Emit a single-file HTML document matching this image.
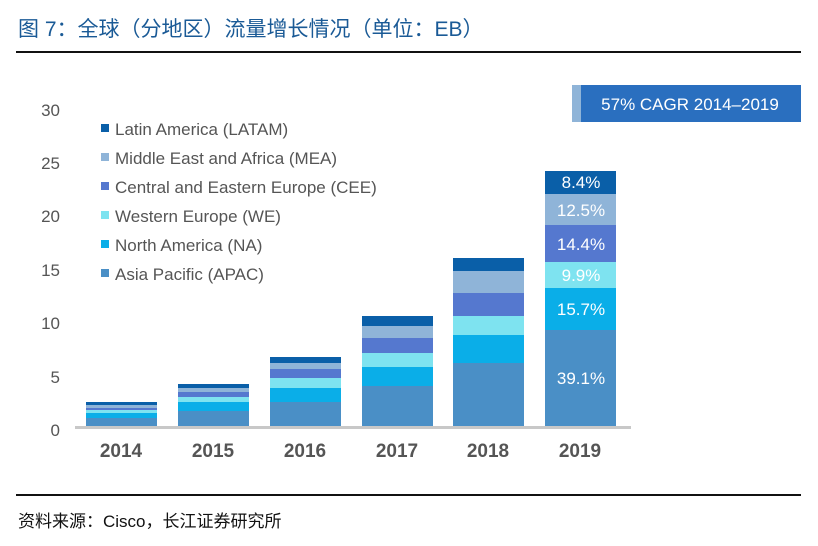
<!DOCTYPE html>
<html><head><meta charset="utf-8"><style>
html,body{margin:0;padding:0;background:#fff;}
svg{display:block;}
</style></head><body>
<svg width="818" height="546" xmlns="http://www.w3.org/2000/svg" font-family="Liberation Sans, Noto Sans CJK SC, sans-serif">
<text x="18" y="36" font-size="21" fill="#1a5a96">图 7：全球（分地区）流量增长情况（单位：EB）</text>
<rect x="16" y="51" width="785" height="2" fill="#111"/>
<rect x="16" y="494" width="785" height="2" fill="#111"/>
<text x="18" y="527" font-size="17" fill="#111">资料来源：Cisco，长江证券研究所</text>

<!-- CAGR box -->
<rect x="572" y="85" width="229" height="37" fill="#2a6fbf"/>
<rect x="572" y="85" width="9" height="37" fill="#8fb4d8"/>
<text x="690" y="110" font-size="17" fill="#fff" text-anchor="middle">57% CAGR 2014–2019</text>

<!-- y labels -->
<g font-size="17" fill="#555" text-anchor="end">
<text x="60" y="116">30</text><text x="60" y="169">25</text><text x="60" y="222">20</text>
<text x="60" y="276">15</text><text x="60" y="329">10</text><text x="60" y="383">5</text><text x="60" y="436">0</text>
</g>

<!-- legend -->
<g font-size="17" fill="#555">
<rect x="101" y="124" width="8" height="8" fill="#0a5fa8"/><text x="115" y="135">Latin America (LATAM)</text>
<rect x="101" y="153" width="8" height="8" fill="#8fb4d8"/><text x="115" y="164">Middle East and Africa (MEA)</text>
<rect x="101" y="182" width="8" height="8" fill="#5578cf"/><text x="115" y="193">Central and Eastern Europe (CEE)</text>
<rect x="101" y="211" width="8" height="8" fill="#7ee3f0"/><text x="115" y="222">Western Europe (WE)</text>
<rect x="101" y="240" width="8" height="8" fill="#0aaee8"/><text x="115" y="251">North America (NA)</text>
<rect x="101" y="269" width="8" height="8" fill="#4a8fc6"/><text x="115" y="280">Asia Pacific (APAC)</text>
</g>

<!-- bars: colors top to bottom -->
<g>
<!-- 2014 -->
<rect x="86" y="402" width="71" height="3" fill="#0a5fa8"/>
<rect x="86" y="405" width="71" height="3" fill="#8fb4d8"/>
<rect x="86" y="408" width="71" height="2" fill="#5578cf"/>
<rect x="86" y="410" width="71" height="3" fill="#7ee3f0"/>
<rect x="86" y="413" width="71" height="5" fill="#0aaee8"/>
<rect x="86" y="418" width="71" height="10" fill="#4a8fc6"/>
<!-- 2015 -->
<rect x="178" y="384" width="71" height="4" fill="#0a5fa8"/>
<rect x="178" y="388" width="71" height="4" fill="#8fb4d8"/>
<rect x="178" y="392" width="71" height="5" fill="#5578cf"/>
<rect x="178" y="397" width="71" height="5" fill="#7ee3f0"/>
<rect x="178" y="402" width="71" height="9" fill="#0aaee8"/>
<rect x="178" y="411" width="71" height="17" fill="#4a8fc6"/>
<!-- 2016 -->
<rect x="270" y="357" width="71" height="6" fill="#0a5fa8"/>
<rect x="270" y="363" width="71" height="6" fill="#8fb4d8"/>
<rect x="270" y="369" width="71" height="9" fill="#5578cf"/>
<rect x="270" y="378" width="71" height="10" fill="#7ee3f0"/>
<rect x="270" y="388" width="71" height="14" fill="#0aaee8"/>
<rect x="270" y="402" width="71" height="26" fill="#4a8fc6"/>
<!-- 2017 -->
<rect x="362" y="316" width="71" height="10" fill="#0a5fa8"/>
<rect x="362" y="326" width="71" height="12" fill="#8fb4d8"/>
<rect x="362" y="338" width="71" height="15" fill="#5578cf"/>
<rect x="362" y="353" width="71" height="14" fill="#7ee3f0"/>
<rect x="362" y="367" width="71" height="19" fill="#0aaee8"/>
<rect x="362" y="386" width="71" height="42" fill="#4a8fc6"/>
<!-- 2018 -->
<rect x="453" y="258" width="71" height="13" fill="#0a5fa8"/>
<rect x="453" y="271" width="71" height="22" fill="#8fb4d8"/>
<rect x="453" y="293" width="71" height="23" fill="#5578cf"/>
<rect x="453" y="316" width="71" height="19" fill="#7ee3f0"/>
<rect x="453" y="335" width="71" height="28" fill="#0aaee8"/>
<rect x="453" y="363" width="71" height="65" fill="#4a8fc6"/>
<!-- 2019 -->
<rect x="545" y="171" width="71" height="23" fill="#0a5fa8"/>
<rect x="545" y="194" width="71" height="31" fill="#8fb4d8"/>
<rect x="545" y="225" width="71" height="37" fill="#5578cf"/>
<rect x="545" y="262" width="71" height="26" fill="#7ee3f0"/>
<rect x="545" y="288" width="71" height="42" fill="#0aaee8"/>
<rect x="545" y="330" width="71" height="98" fill="#4a8fc6"/>
</g>
<g font-size="17" fill="#fff" text-anchor="middle">
<text x="581" y="188">8.4%</text>
<text x="581" y="216">12.5%</text>
<text x="581" y="250">14.4%</text>
<text x="581" y="281">9.9%</text>
<text x="581" y="315">15.7%</text>
<text x="581" y="384">39.1%</text>
</g>
<rect x="75" y="426" width="556" height="3" fill="#c8c8c8"/>
<g font-size="19" font-weight="bold" fill="#555" text-anchor="middle">
<text x="121" y="457">2014</text><text x="213" y="457">2015</text><text x="305" y="457">2016</text>
<text x="397" y="457">2017</text><text x="488" y="457">2018</text><text x="580" y="457">2019</text>
</g>
</svg>
</body></html>
